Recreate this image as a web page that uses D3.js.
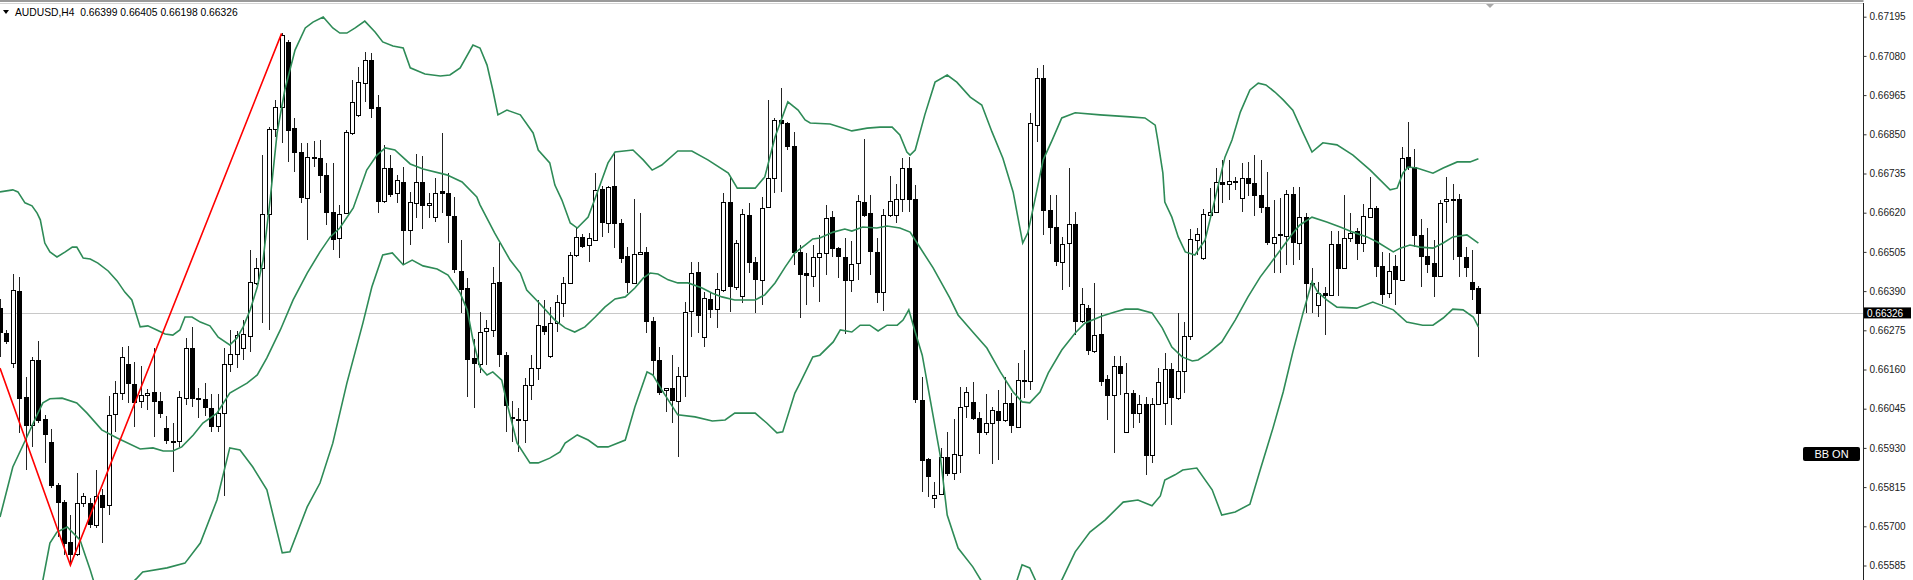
<!DOCTYPE html>
<html>
  <head>
    <meta charset="utf-8">
    <title>AUDUSD,H4</title>
    <script src="https://cdnjs.cloudflare.com/ajax/libs/d3/7.8.5/d3.min.js"></script>
    <style>
      html, body { margin: 0; padding: 0; background: #fff; }
      svg { display: block; font-family: "Liberation Sans", Arial, sans-serif; }
      .wick { stroke: #222; stroke-width: 1; shape-rendering: crispEdges; }
      .body { stroke: #000; stroke-width: 1; shape-rendering: crispEdges; }
      .band { fill: none; stroke: #2e8b57; stroke-width: 1.6; }
      .zigzag { fill: none; stroke: #ff0000; stroke-width: 1.6; }
      .axis text { font-size: 10px; fill: #222; }
      .axis line { stroke: #333; }
    </style>
  </head>
  <body>
    <svg id="chart" width="1913" height="580"></svg>
    <script>
      // ---- chart data (AUDUSD H4) ----
      const symbol = "AUDUSD,H4";
      const lastBar = ["0.66399", "0.66405", "0.66198", "0.66326"];
      const lastPrice = 0.66326;

      const opens = [0.66340,0.66268,0.66178,0.66391,0.66078,0.65997,0.66188,0.66014,0.65948,0.65821,
        0.65770,0.65653,0.65619,0.65768,0.65768,0.65704,0.65792,0.65763,0.66027,0.66090,
        0.66175,0.66118,0.66066,0.66085,0.66093,0.66069,0.65989,0.65951,0.65948,0.66078,
        0.66224,0.66077,0.66073,0.66048,0.65995,0.66032,0.66175,0.66205,0.66222,0.66261,
        0.66416,0.66457,0.66616,0.66865,0.66931,0.67122,0.66868,0.66799,0.66662,0.66784,
        0.66780,0.66731,0.66623,0.66545,0.66619,0.66855,0.66907,0.67000,0.67068,0.66929,
        0.66652,0.66750,0.66677,0.66711,0.66571,0.66649,0.66711,0.66643,0.66610,0.66684,
        0.66679,0.66610,0.66450,0.66398,0.66193,0.66178,0.66271,0.66276,0.66416,0.66202,
        0.66020,0.66013,0.66012,0.66115,0.66164,0.66288,0.66198,0.66296,0.66354,0.66413,
        0.66496,0.66550,0.66525,0.66540,0.66689,0.66591,0.66698,0.66591,0.66494,0.66415,
        0.66499,0.66506,0.66303,0.66188,0.66098,0.66105,0.66069,0.66141,0.66330,0.66445,
        0.66256,0.66367,0.66335,0.66395,0.66652,0.66403,0.66374,0.66613,0.66476,0.66425,
        0.66635,0.66721,0.66892,0.66882,0.66816,0.66506,0.66442,0.66435,0.66491,0.66503,
        0.66608,0.66517,0.66491,0.66423,0.66472,0.66652,0.66618,0.66504,0.66386,0.66613,
        0.66613,0.66659,0.66750,0.66660,0.66071,0.65897,0.65782,0.65794,0.65904,0.65855,
        0.65911,0.66051,0.66066,0.66019,0.65976,0.66002,0.66038,0.66012,0.66061,0.65992,
        0.66129,0.66126,0.66877,0.67015,0.66628,0.66577,0.66476,0.66530,0.66586,0.66300,
        0.66341,0.66215,0.66264,0.66131,0.66085,0.66170,0.65978,0.66092,0.66033,0.66058,
        0.65909,0.66059,0.66061,0.66161,0.66078,0.66157,0.66256,0.66540,0.66486,0.66615,
        0.66623,0.66711,0.66706,0.66713,0.66662,0.66723,0.66708,0.66672,0.66636,0.66532,
        0.66557,0.66550,0.66674,0.66532,0.66608,0.66415,0.66349,0.66385,0.66379,0.66528,
        0.66459,0.66545,0.66566,0.66532,0.66610,0.66635,0.66465,0.66384,0.66465,0.66423,
        0.66783,0.66755,0.66555,0.66493,0.66472,0.66435,0.66652,0.66660,0.66659,0.66491,
        0.66418,0.66399];
      const highs = [0.66366,0.66276,0.66440,0.66432,0.66139,0.66196,0.66245,0.66027,0.65985,0.65827,
        0.65777,0.65733,0.65855,0.65799,0.65782,0.65865,0.65809,0.66083,0.66126,0.66227,
        0.66229,0.66183,0.66170,0.66102,0.66222,0.66093,0.66025,0.66004,0.66097,0.66252,
        0.66286,0.66105,0.66120,0.66088,0.66088,0.66222,0.66276,0.66274,0.66305,0.66511,
        0.66486,0.66789,0.66872,0.66951,0.67146,0.67127,0.66897,0.66824,0.66824,0.66831,
        0.66833,0.66765,0.66767,0.66643,0.66863,0.67009,0.67048,0.67092,0.67088,0.66965,
        0.66819,0.66789,0.66731,0.66755,0.66682,0.66792,0.66786,0.66679,0.66721,0.66855,
        0.66736,0.66667,0.66540,0.66428,0.66249,0.66330,0.66305,0.66460,0.66530,0.66211,
        0.66069,0.66046,0.66134,0.66202,0.66364,0.66364,0.66344,0.66379,0.66432,0.66506,
        0.66579,0.66558,0.66560,0.66736,0.66698,0.66698,0.66799,0.66601,0.66520,0.66659,
        0.66618,0.66520,0.66313,0.66227,0.66106,0.66202,0.66168,0.66359,0.66476,0.66476,
        0.66388,0.66388,0.66442,0.66677,0.66726,0.66540,0.66630,0.66648,0.66489,0.66667,
        0.66951,0.66898,0.66985,0.66887,0.66858,0.66525,0.66501,0.66525,0.66555,0.66643,
        0.66625,0.66520,0.66547,0.66537,0.66672,0.66836,0.66672,0.66547,0.66631,0.66729,
        0.66703,0.66780,0.66784,0.66701,0.66139,0.65900,0.65831,0.65929,0.65978,0.66015,
        0.66110,0.66110,0.66124,0.66036,0.66087,0.66051,0.66100,0.66139,0.66090,0.66178,
        0.66217,0.66912,0.67044,0.67053,0.66672,0.66672,0.66550,0.66750,0.66623,0.66398,
        0.66349,0.66415,0.66325,0.66144,0.66200,0.66200,0.66180,0.66100,0.66085,0.66080,
        0.66076,0.66164,0.66209,0.66178,0.66327,0.66300,0.66571,0.66574,0.66630,0.66692,
        0.66750,0.66775,0.66775,0.66724,0.66765,0.66770,0.66789,0.66775,0.66740,0.66657,
        0.66663,0.66687,0.66695,0.66695,0.66620,0.66457,0.66418,0.66403,0.66566,0.66567,
        0.66672,0.66618,0.66574,0.66646,0.66726,0.66640,0.66506,0.66501,0.66496,0.66814,
        0.66887,0.66806,0.66601,0.66574,0.66540,0.66657,0.66724,0.66704,0.66675,0.66520,
        0.66511,0.66405];
      const lows = [0.66198,0.66235,0.66164,0.65975,0.65865,0.65934,0.66002,0.65885,0.65812,0.65669,
        0.65616,0.65586,0.65613,0.65758,0.65694,0.65694,0.65652,0.65733,0.65978,0.66071,
        0.66061,0.65992,0.66046,0.66041,0.65961,0.66017,0.65941,0.65858,0.65934,0.66056,
        0.66051,0.66017,0.66025,0.65978,0.65978,0.65789,0.66153,0.66164,0.66188,0.66212,
        0.66408,0.66295,0.66276,0.66843,0.66824,0.66770,0.66740,0.66648,0.66540,0.66755,
        0.66679,0.66584,0.66511,0.66486,0.66615,0.66848,0.66902,0.66946,0.66897,0.66618,
        0.66649,0.66666,0.66648,0.66467,0.66525,0.66604,0.66571,0.66604,0.66594,0.66618,
        0.66530,0.66442,0.66325,0.66080,0.66046,0.66149,0.66173,0.66256,0.66168,0.65978,
        0.65948,0.65919,0.65944,0.66071,0.66129,0.66261,0.66194,0.66271,0.66315,0.66411,
        0.66491,0.66516,0.66476,0.66537,0.66550,0.66560,0.66516,0.66472,0.66384,0.66411,
        0.66496,0.66266,0.66144,0.66085,0.66036,0.66002,0.65904,0.66080,0.66256,0.66266,
        0.66227,0.66310,0.66281,0.66387,0.66330,0.66393,0.66356,0.66442,0.66325,0.66349,
        0.66633,0.66677,0.66682,0.66804,0.66467,0.66310,0.66349,0.66403,0.66359,0.66437,
        0.66491,0.66428,0.66263,0.66388,0.66423,0.66608,0.66437,0.66354,0.66332,0.66608,
        0.66589,0.66623,0.66623,0.66061,0.65802,0.65787,0.65753,0.65792,0.65849,0.65836,
        0.65855,0.66017,0.66012,0.65911,0.65968,0.65882,0.65895,0.66007,0.65973,0.65987,
        0.66076,0.66100,0.66828,0.66555,0.66528,0.66464,0.66393,0.66403,0.66261,0.66297,
        0.66202,0.66207,0.66112,0.66012,0.65914,0.66085,0.65974,0.65987,0.66003,0.65851,
        0.65885,0.66056,0.65997,0.65997,0.66071,0.66090,0.66247,0.66496,0.66481,0.66613,
        0.66618,0.66648,0.66657,0.66687,0.66623,0.66669,0.66610,0.66618,0.66525,0.66442,
        0.66443,0.66467,0.66467,0.66481,0.66325,0.66325,0.66315,0.66261,0.66376,0.66376,
        0.66457,0.66535,0.66481,0.66506,0.66608,0.66432,0.66352,0.66369,0.66349,0.66420,
        0.66745,0.66520,0.66403,0.66442,0.66374,0.66431,0.66589,0.66481,0.66432,0.66432,
        0.66364,0.66198];
      const closes = [0.66271,0.66245,0.66393,0.66078,0.65997,0.66188,0.66012,0.65970,0.65821,0.65770,
        0.65650,0.65619,0.65768,0.65789,0.65707,0.65789,0.65758,0.66027,0.66090,0.66196,
        0.66118,0.66066,0.66085,0.66090,0.66066,0.66033,0.65953,0.65947,0.66078,0.66224,
        0.66078,0.66073,0.66049,0.65995,0.66033,0.66175,0.66205,0.66261,0.66264,0.66418,
        0.66459,0.66616,0.66865,0.66931,0.67141,0.66863,0.66799,0.66667,0.66783,0.66780,
        0.66731,0.66623,0.66545,0.66616,0.66858,0.66946,0.67004,0.67068,0.66926,0.66652,
        0.66750,0.66674,0.66716,0.66571,0.66652,0.66711,0.66643,0.66648,0.66679,0.66679,
        0.66613,0.66454,0.66398,0.66190,0.66178,0.66271,0.66281,0.66413,0.66205,0.66056,
        0.66016,0.66015,0.66115,0.66164,0.66290,0.66274,0.66296,0.66359,0.66413,0.66496,
        0.66550,0.66525,0.66545,0.66687,0.66591,0.66696,0.66589,0.66488,0.66418,0.66499,
        0.66506,0.66303,0.66188,0.66095,0.66105,0.66071,0.66141,0.66330,0.66442,0.66320,
        0.66369,0.66337,0.66395,0.66652,0.66405,0.66532,0.66616,0.66476,0.66425,0.66635,
        0.66721,0.66892,0.66882,0.66814,0.66506,0.66442,0.66437,0.66491,0.66503,0.66605,
        0.66517,0.66493,0.66423,0.66470,0.66655,0.66615,0.66506,0.66386,0.66613,0.66654,
        0.66659,0.66750,0.66660,0.66073,0.65895,0.65846,0.65792,0.65904,0.65858,0.65911,
        0.66051,0.66093,0.66019,0.65978,0.66002,0.66041,0.66012,0.66061,0.65995,0.66129,
        0.66126,0.66882,0.67014,0.66628,0.66577,0.66476,0.66528,0.66586,0.66300,0.66351,
        0.66217,0.66261,0.66127,0.66085,0.66170,0.66149,0.66092,0.66032,0.66058,0.65909,
        0.66059,0.66123,0.66161,0.66080,0.66157,0.66259,0.66542,0.66557,0.66615,0.66623,
        0.66711,0.66706,0.66714,0.66710,0.66721,0.66708,0.66672,0.66638,0.66532,0.66550,
        0.66553,0.66674,0.66532,0.66608,0.66415,0.66411,0.66384,0.66379,0.66528,0.66459,
        0.66547,0.66560,0.66532,0.66610,0.66635,0.66465,0.66384,0.66449,0.66428,0.66780,
        0.66755,0.66555,0.66493,0.66470,0.66435,0.66649,0.66659,0.66657,0.66491,0.66462,
        0.66398,0.66326];

      // Bollinger bands, [bar index, price]
      const bbUpper = [[0,0.66681],[2,0.66687],[2.8,0.66681],[3.9,0.66649],[5,0.66640],[5.8,0.66619],[6.3,0.66599],[7,0.66531],
        [7.8,0.66505],[8.9,0.66490],[10.2,0.66505],[11.3,0.66519],[12,0.66519],[13,0.66487],[14.1,0.66484],[15.3,0.66472],
        [16.9,0.66449],[18.3,0.66420],[19.5,0.66387],[20.6,0.66364],[21.9,0.66285],[23.1,0.66288],[24.5,0.66276],[25.8,0.66264],
        [27,0.66261],[28.1,0.66276],[28.9,0.66314],[30,0.66314],[31.3,0.66299],[32.8,0.66288],[34.1,0.66255],[35.9,0.66232],
        [37,0.66252],[38,0.66285],[39.1,0.66335],[40.2,0.66402],[41.1,0.66481],[42.2,0.66657],[43.3,0.66854],[44.5,0.66980],
        [46.1,0.67097],[47.7,0.67162],[48.9,0.67179],[50.5,0.67194],[52,0.67162],[53.1,0.67147],[54.2,0.67147],[55.5,0.67162],
        [57,0.67182],[58.6,0.67150],[59.8,0.67121],[61.4,0.67109],[63,0.67103],[64.1,0.67045],[66.4,0.67027],[68.8,0.67021],
        [70.3,0.67024],[71.9,0.67045],[73.9,0.67112],[75,0.67103],[76.1,0.67053],[77,0.66980],[77.8,0.66907],[79.2,0.66921],
        [81.3,0.66907],[83.3,0.66854],[84.1,0.66804],[85.9,0.66766],[86.7,0.66701],[87.8,0.66657],[89.1,0.66590],[90.2,0.66575],
        [91.9,0.66607],[93.3,0.66678],[95,0.66766],[96.1,0.66798],[98.9,0.66804],[100.5,0.66775],[101.9,0.66745],[103.4,0.66760],
        [105.9,0.66801],[108.1,0.66801],[110.6,0.66775],[113.8,0.66736],[115.2,0.66692],[118,0.66692],[119.5,0.66725],[121.1,0.66842],
        [123.1,0.66945],[124.7,0.66921],[125.8,0.66892],[126.6,0.66883],[129.7,0.66880],[131.3,0.66871],[133.1,0.66860],[135.5,0.66868],
        [137.5,0.66871],[139.4,0.66871],[140.6,0.66848],[141.7,0.66798],[142.2,0.66789],[143,0.66804],[144.5,0.66907],[146.1,0.67003],
        [148,0.67024],[149.5,0.67003],[151.6,0.66959],[153.4,0.66936],[155,0.66857],[156.7,0.66780],[158.3,0.66681],[159.8,0.66531],
        [160.6,0.66561],[161.7,0.66657],[163,0.66775],[164.4,0.66833],[165.9,0.66898],[168,0.66913],[171.9,0.66907],[176.6,0.66901],
        [178.9,0.66898],[180.5,0.66877],[180.9,0.66833],[181.7,0.66736],[182,0.66651],[183.1,0.66607],[184.1,0.66549],[185.2,0.66505],
        [186.7,0.66496],[188.3,0.66540],[189.8,0.66657],[191.4,0.66783],[192.5,0.66833],[193.8,0.66915],[195.3,0.66980],[196.6,0.67000],
        [197.8,0.66995],[199.2,0.66974],[200.5,0.66951],[202,0.66921],[203.6,0.66854],[205,0.66798],[206.7,0.66825],[208.9,0.66819],
        [211.4,0.66789],[214.1,0.66745],[217.2,0.66687],[218.3,0.66692],[219.2,0.66736],[220,0.66754],[221.4,0.66751],[223.9,0.66736],
        [225.5,0.66751],[227.7,0.66769],[229.7,0.66769],[231,0.66778]];
      const bbMiddle = [[0,0.65727],[2,0.65874],[4.2,0.65962],[5.2,0.66003],[6.7,0.66062],[7.8,0.66074],[9.7,0.66076],[12,0.66062],
        [13.6,0.66032],[15.9,0.65983],[18.3,0.65959],[21.9,0.65927],[23.9,0.65930],[25.5,0.65921],[27,0.65921],[28.4,0.65933],
        [30.2,0.65968],[31.7,0.66003],[33.9,0.66032],[35.9,0.66091],[38.6,0.66120],[40.2,0.66144],[41.7,0.66194],[43.8,0.66276],
        [45.8,0.66364],[48,0.66443],[50,0.66505],[51.6,0.66549],[53.1,0.66575],[55.2,0.66634],[57.3,0.66745],[58.9,0.66789],
        [60.2,0.66810],[61.7,0.66804],[64.1,0.66763],[66.1,0.66748],[69.8,0.66731],[72.2,0.66710],[74.5,0.66666],[75,0.66643],
        [77.3,0.66560],[79.7,0.66481],[81.3,0.66443],[82.3,0.66393],[84.4,0.66352],[86.7,0.66305],[88.3,0.66282],[89.8,0.66270],
        [91.4,0.66285],[93,0.66314],[94.5,0.66343],[96.1,0.66367],[97.7,0.66373],[99.2,0.66399],[100.5,0.66428],[101.6,0.66443],
        [102.8,0.66440],[104.4,0.66423],[105.9,0.66414],[107.5,0.66414],[109.7,0.66399],[111.3,0.66384],[112.8,0.66373],[114.8,0.66364],
        [118,0.66364],[119.5,0.66379],[121.1,0.66414],[122.7,0.66461],[124.2,0.66502],[125.8,0.66525],[127,0.66543],[128.1,0.66546],
        [130.2,0.66563],[132,0.66572],[133.1,0.66566],[134.8,0.66578],[137,0.66575],[138.6,0.66581],[140.6,0.66575],[142.2,0.66563],
        [143.3,0.66531],[145.8,0.66458],[148.4,0.66370],[149.7,0.66320],[152,0.66270],[154.2,0.66223],[156.3,0.66153],[158.3,0.66094],
        [159.7,0.66065],[160.9,0.66062],[162.5,0.66094],[163.8,0.66150],[165.9,0.66217],[168,0.66267],[169.5,0.66296],[172.2,0.66317],
        [174.2,0.66329],[175.8,0.66337],[177.8,0.66337],[180,0.66326],[181.6,0.66282],[183.1,0.66226],[184.7,0.66197],[186.3,0.66185],
        [187.2,0.66188],[188.8,0.66208],[190.9,0.66241],[193,0.66305],[195,0.66373],[196.9,0.66431],[198.9,0.66481],[202,0.66560],
        [203.1,0.66584],[205,0.66607],[207.3,0.66593],[209.4,0.66578],[211.4,0.66563],[213.6,0.66549],[215.2,0.66534],[217.7,0.66505],
        [218.8,0.66516],[220.3,0.66525],[221.9,0.66519],[223.9,0.66516],[225.5,0.66531],[227,0.66549],[229.2,0.66555],[231,0.66531]];
      const bbLower = [[0,0.64780],[2,0.65061],[4.2,0.65275],[5.8,0.65454],[6.7,0.65542],[7.8,0.65651],[8.9,0.65683],[10.5,0.65698],
        [12.5,0.65660],[14.1,0.65572],[15.3,0.65498],[17.2,0.65469],[19.5,0.65513],[21.4,0.65548],[22.3,0.65566],[26.1,0.65578],
        [28.9,0.65592],[31.3,0.65651],[33.9,0.65777],[35.9,0.65930],[37.5,0.65924],[39.5,0.65874],[41.7,0.65807],[44.1,0.65622],
        [45.3,0.65625],[48,0.65757],[50,0.65827],[52,0.65944],[54.2,0.66120],[56.7,0.66296],[58.1,0.66402],[59.8,0.66496],
        [61.3,0.66502],[63,0.66467],[64.4,0.66481],[66.1,0.66464],[68.3,0.66455],[70,0.66437],[71.9,0.66384],[73,0.66335],
        [73.9,0.66247],[75,0.66167],[76.1,0.66144],[77,0.66153],[78.4,0.66129],[79.2,0.66062],[80.8,0.65944],[82.8,0.65886],
        [84.1,0.65886],[85.9,0.65900],[87.5,0.65918],[88.3,0.65944],[90.2,0.65968],[91.9,0.65953],[93.4,0.65933],[95,0.65933],
        [97.7,0.65953],[99.2,0.66050],[101.1,0.66153],[102,0.66144],[103.4,0.66100],[105.9,0.66027],[108.6,0.66021],[111.3,0.66009],
        [113.3,0.66012],[114.8,0.66032],[118,0.66032],[119.8,0.66003],[121.4,0.65974],[122.3,0.65977],[124.2,0.66091],[125,0.66120],
        [127,0.66197],[128.1,0.66202],[130.2,0.66241],[131.3,0.66276],[133.1,0.66270],[134.4,0.66290],[135.9,0.66290],[137.2,0.66273],
        [138.6,0.66290],[140.2,0.66290],[141.1,0.66305],[142,0.66335],[143,0.66270],[144.1,0.66202],[146.9,0.65909],[148,0.65733],
        [149.7,0.65636],[152,0.65581],[154.2,0.65513],[156.3,0.65501],[158.3,0.65507],[159.7,0.65587],[160.9,0.65578],[162.5,0.65513],
        [164.4,0.65525],[165.9,0.65542],[168,0.65625],[170.3,0.65683],[172.7,0.65719],[175.5,0.65771],[177.8,0.65777],[180,0.65760],
        [181.3,0.65789],[182,0.65836],[183.6,0.65851],[184.8,0.65865],[187,0.65871],[189.4,0.65807],[190.9,0.65733],[193,0.65742],
        [195.3,0.65765],[196.9,0.65865],[198.9,0.65988],[200.5,0.66094],[202,0.66211],[203.6,0.66326],[205,0.66417],[205.9,0.66387],
        [207.3,0.66364],[208.9,0.66343],[212,0.66340],[214.5,0.66358],[217.7,0.66335],[219.8,0.66299],[222.3,0.66290],[223.9,0.66290],
        [225.5,0.66311],[227,0.66337],[228.6,0.66335],[230.2,0.66314],[231,0.66285]];

      // zigzag swing points, [bar index, price]
      const zigzag = [[0,0.66164],[11,0.65586],[44,0.67146]];

      const priceTicks = [0.67195,0.67080,0.66965,0.66850,0.66735,0.66620,0.66505,0.66390,
        0.66275,0.66160,0.66045,0.65930,0.65815,0.65700,0.65585];

      // ---- layout ----
      const width = 1913, height = 580;
      const axisX = 1863.5;
      const svg = d3.select("#chart");

      const x = d3.scaleLinear().domain([0, 231]).range([0, 1478.4]);
      const y = d3.scaleLinear().domain([0.65585, 0.67195]).range([565.5, 16.7]);

      svg.append("rect").attr("width", width).attr("height", height).attr("fill", "#fff");

      svg.append("defs").append("clipPath").attr("id", "plotClip")
        .append("rect").attr("x", 0).attr("y", 4).attr("width", axisX).attr("height", height - 4);

      const plot = svg.append("g").attr("clip-path", "url(#plotClip)");

      // current price line
      plot.append("line")
        .attr("x1", 0).attr("x2", axisX)
        .attr("y1", Math.round(y(lastPrice)) + 0.5).attr("y2", Math.round(y(lastPrice)) + 0.5)
        .attr("stroke", "#c8c8c8").attr("stroke-width", 1);

      // candles
      const bars = d3.range(opens.length).map(function(i) {
        return { i: i, o: opens[i], h: highs[i], l: lows[i], c: closes[i] };
      });
      const cx = function(d) { return Math.round(x(d.i)) + 0.5; };

      const candle = plot.selectAll(".candle")
        .data(bars)
        .enter().append("g")
          .classed("candle", true);
      candle.append("line")
        .classed("wick", true)
        .attr("x1", cx).attr("x2", cx)
        .attr("y1", function(d) { return y(d.h); })
        .attr("y2", function(d) { return y(d.l); });
      candle.append("rect")
        .classed("body", true)
        .attr("x", function(d) { return cx(d) - 2; })
        .attr("width", 4)
        .attr("y", function(d) { return Math.round(y(Math.max(d.o, d.c))) + 0.5; })
        .attr("height", function(d) { return Math.max(1, Math.round(Math.abs(y(d.o) - y(d.c)))); })
        .attr("fill", function(d) { return d.c >= d.o ? "#fff" : "#000"; });

      // bollinger bands
      const bandLine = d3.line()
        .x(function(d) { return x(d[0]); })
        .y(function(d) { return y(d[1]); })
        .curve(d3.curveLinear);
      [bbUpper, bbMiddle, bbLower].forEach(function(b) {
        plot.append("path").datum(b).classed("band", true).attr("d", bandLine);
      });

      // zigzag
      plot.append("path").datum(zigzag).classed("zigzag", true).attr("d", bandLine);

      // top frame
      svg.append("rect").attr("x", 0).attr("y", 0).attr("width", axisX).attr("height", 2).attr("fill", "#9a9a9a");
      svg.append("line").attr("x1", 0).attr("x2", axisX).attr("y1", 3.5).attr("y2", 3.5)
        .attr("stroke", "#d4d4d4").attr("stroke-width", 1);
      svg.append("path").attr("d", "M1486,4L1494,4L1490,8Z").attr("fill", "#a8a8a8");

      // price axis
      svg.append("line")
        .attr("x1", axisX).attr("x2", axisX).attr("y1", 3).attr("y2", height)
        .attr("stroke", "#222").attr("stroke-width", 1);
      const axis = d3.axisRight(y)
        .tickValues(priceTicks)
        .tickFormat(d3.format(".5f"))
        .tickSize(3)
        .tickPadding(3);
      const axisGroup = svg.append("g")
        .classed("axis", true)
        .attr("transform", "translate(" + axisX + ",0)")
        .call(axis);
      axisGroup.select(".domain").remove();

      // current price tag
      const tagY = y(lastPrice);
      svg.append("rect").attr("x", 1864).attr("y", tagY - 5.5).attr("width", 47).attr("height", 11).attr("fill", "#000");
      svg.append("text").attr("x", 1867).attr("y", tagY + 3.6)
        .attr("font-size", "10px").attr("fill", "#fff").text(d3.format(".5f")(lastPrice));

      // BB ON badge
      svg.append("rect").attr("x", 1803).attr("y", 447).attr("width", 57).attr("height", 14)
        .attr("rx", 2).attr("fill", "#000");
      svg.append("text").attr("x", 1831.5).attr("y", 458).attr("text-anchor", "middle")
        .attr("font-size", "11px").attr("fill", "#fff").text("BB ON");

      // header
      svg.append("path").attr("d", "M3,10L9,10L6,14Z").attr("fill", "#000");
      svg.append("text").attr("x", 15).attr("y", 16).attr("font-size", "10.3px").attr("fill", "#000")
        .attr("xml:space", "preserve")
        .text(symbol + "  " + lastBar.join(" "));
    </script>
  </body>
</html>
